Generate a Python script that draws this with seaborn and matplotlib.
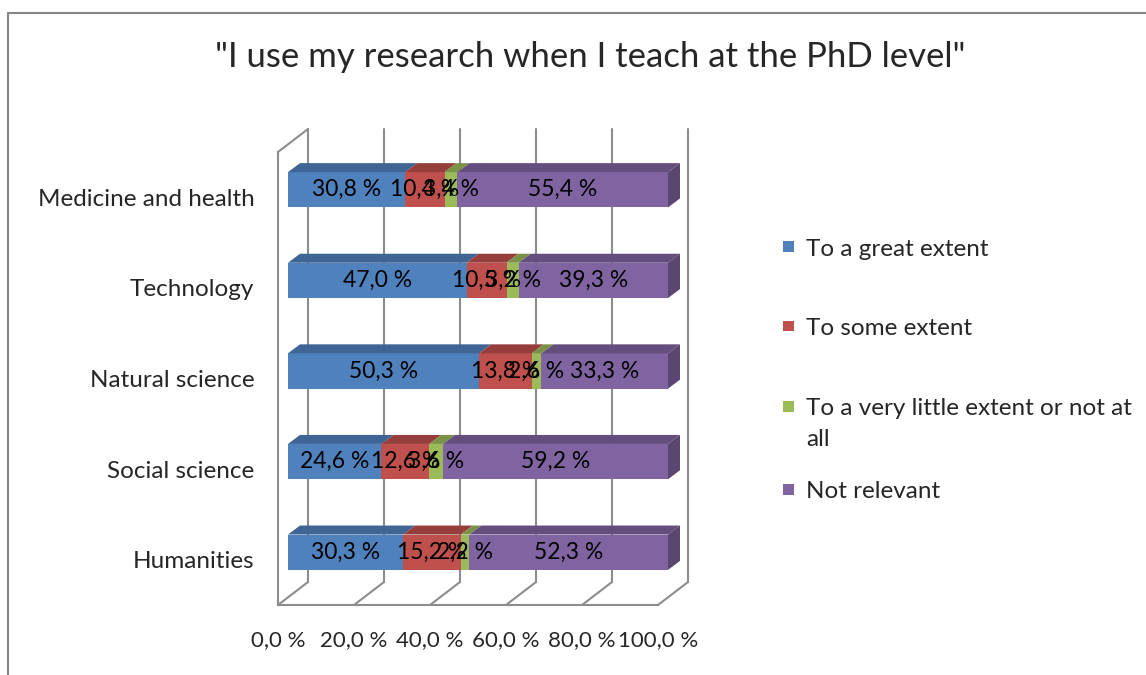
#!/usr/bin/env python3
"""
Stacked 3D-look horizontal bar chart: use of own research in PhD teaching.
"""

import numpy as np
import pandas as pd
import matplotlib
matplotlib.use("Agg")
import matplotlib.pyplot as plt
import matplotlib.transforms as mtransforms
from matplotlib.patches import Polygon, Rectangle
from matplotlib.lines import Line2D
import seaborn as sns

# data (percent of respondents)
categories = ["Medicine and health", "Technology", "Natural science",
              "Social science", "Humanities"]
series_names = ["To a great extent", "To some extent",
                "To a very little extent or not at all", "Not relevant"]
great_extent = [30.8, 47.0, 50.3, 24.6, 30.3]
some_extent = [10.4, 10.5, 13.8, 12.6, 15.2]
little_extent = [3.4, 3.2, 2.6, 3.6, 2.2]
not_relevant = [55.4, 39.3, 33.3, 59.2, 52.3]
x_ticks = [0, 20, 40, 60, 80, 100]

colors = ["#4F81BD", "#C0504D", "#9BBB59", "#8064A2"]
GRID = "#8C8C8C"

sns.set_style("white")
plt.rcParams["font.family"] = ["Lato", "DejaVu Sans"]

W, H = 1146, 675
fig = plt.figure(figsize=(W / 100, H / 100), dpi=100)


def px(x, y):
    """figure fraction from image pixel coords (origin top-left)"""
    return x / W, 1 - y / H


# front plane of the "3D" box
left, top = px(278, 152)
right, bottom = px(658, 605)
ax = fig.add_axes([left, bottom, right - left, top - bottom])

bar_off = mtransforms.ScaledTranslation(0.10, 0.075, fig.dpi_scale_trans)
back_off = mtransforms.ScaledTranslation(0.30, 0.23, fig.dpi_scale_trans)
depth = np.array([12.0, 9.0])  # bar depth in display px
BAR_W = 0.39

values = [great_extent, some_extent, little_extent, not_relevant]
df = pd.DataFrame(dict(zip(series_names, values)), index=categories)
cum = df.cumsum(axis=1)

# stacked bars: draw cumulative totals from the back so each segment shows
for name, col in reversed(list(zip(series_names, colors))):
    sns.barplot(x=cum[name].values, y=categories, order=categories,
                color=col, width=BAR_W, orient="h", ax=ax, linewidth=0,
                saturation=1, zorder=3)

# push the bars a bit into the box (they sit between front and back wall)
for p in ax.patches:
    p.set_transform(ax.transData + bar_off)
    p.set_clip_on(False)

ax.set_xlim(0, 100)
ax.set_ylim(len(categories) - 0.5, -0.5)

bar_tr = ax.transData + bar_off
back_tr = ax.transData + back_off
ident = mtransforms.IdentityTransform()


def shade(c, f):
    rgb = np.array(matplotlib.colors.to_rgb(c))
    return tuple(rgb * f)


# top and side faces
half = BAR_W / 2
for i, cat in enumerate(categories):
    start = 0.0
    for j, name in enumerate(series_names):
        end = cum.loc[cat, name]
        a = bar_tr.transform((start, i - half))
        b = bar_tr.transform((end, i - half))
        poly = Polygon([a, b, b + depth, a + depth], closed=True,
                       facecolor=shade(colors[j], 0.78), edgecolor="none",
                       transform=ident, zorder=4)
        fig.add_artist(poly)
        start = end
    a = bar_tr.transform((start, i - half))
    b = bar_tr.transform((start, i + half))
    side = Polygon([a, b, b + depth, a + depth], closed=True,
                   facecolor=shade(colors[-1], 0.7), edgecolor="none",
                   transform=ident, zorder=4)
    fig.add_artist(side)

# value labels on the front faces
for i, cat in enumerate(categories):
    start = 0.0
    for name in series_names:
        v = df.loc[cat, name]
        ax.text(start + v / 2, i, f"{v:.1f} %".replace(".", ","),
                ha="center", va="center", fontsize=16.5, color="black",
                transform=bar_tr, zorder=6, clip_on=False)
        start += v

# back wall gridlines and floor diagonals
y_lo, y_hi = ax.get_ylim()
for v in x_ticks:
    ax.plot([v, v], [y_lo, y_hi], color=GRID, lw=1.5, transform=back_tr,
            zorder=1, clip_on=False)
    f0 = ax.transData.transform((v, y_lo))
    b0 = back_tr.transform((v, y_lo))
    fig.add_artist(Line2D([f0[0], b0[0]], [f0[1], b0[1]], color=GRID,
                          lw=1.5, transform=ident, zorder=1))
# top edge of the left wall
f0 = ax.transData.transform((0, y_hi))
b0 = back_tr.transform((0, y_hi))
fig.add_artist(Line2D([f0[0], b0[0]], [f0[1], b0[1]], color=GRID,
                      lw=1.5, transform=ident, zorder=1))

# axes styling
for s in ["top", "right"]:
    ax.spines[s].set_visible(False)
for s in ["left", "bottom"]:
    ax.spines[s].set_color(GRID)
    ax.spines[s].set_linewidth(1.5)
ax.set_xticks(x_ticks)
ax.set_xticklabels([f"{t:.1f} %".replace(".", ",") for t in x_ticks])
ax.set_yticks(range(len(categories)))
ax.set_yticklabels(categories)
ax.set_yticks(np.arange(-0.5, len(categories)), minor=True)
ax.tick_params(axis="x", length=6, width=1.5, color=GRID, pad=12,
               labelsize=16, direction="out")
ax.tick_params(axis="y", which="major", length=0, pad=17, labelsize=17.5)
ax.tick_params(axis="y", which="minor", length=5, width=1.5, color=GRID,
               direction="out")
ax.set_xlabel("")
ax.set_ylabel("")
ax.patch.set_alpha(0)

# title
tx, ty = px(590, 57)
fig.text(tx, ty, '"I use my research when I teach at the PhD level"',
         ha="center", va="center", fontsize=25)

# legend
leg_y = [247, 326, 406, 489]
leg_labels = ["To a great extent", "To some extent",
              "To a very little extent or not at\nall", "Not relevant"]
for lab, yy, col in zip(leg_labels, leg_y, colors):
    sx, sy = px(783, yy + 5.5)
    fig.add_artist(Rectangle((sx, sy), 11 / W, 11 / H, facecolor=col,
                             edgecolor="none", transform=fig.transFigure))
    lx, ly = px(806, yy - 8)
    fig.text(lx, ly, lab, ha="left", va="top", fontsize=17.5, linespacing=1.6)

# outer border
fig.add_artist(Line2D([8 / W, 8 / W], [0, 1 - 13 / H], color="#868686",
                      lw=1.5, transform=fig.transFigure))
fig.add_artist(Line2D([8 / W, 1], [1 - 13 / H, 1 - 13 / H], color="#868686",
                      lw=1.5, transform=fig.transFigure))

fig.savefig("out.png", dpi=100)
